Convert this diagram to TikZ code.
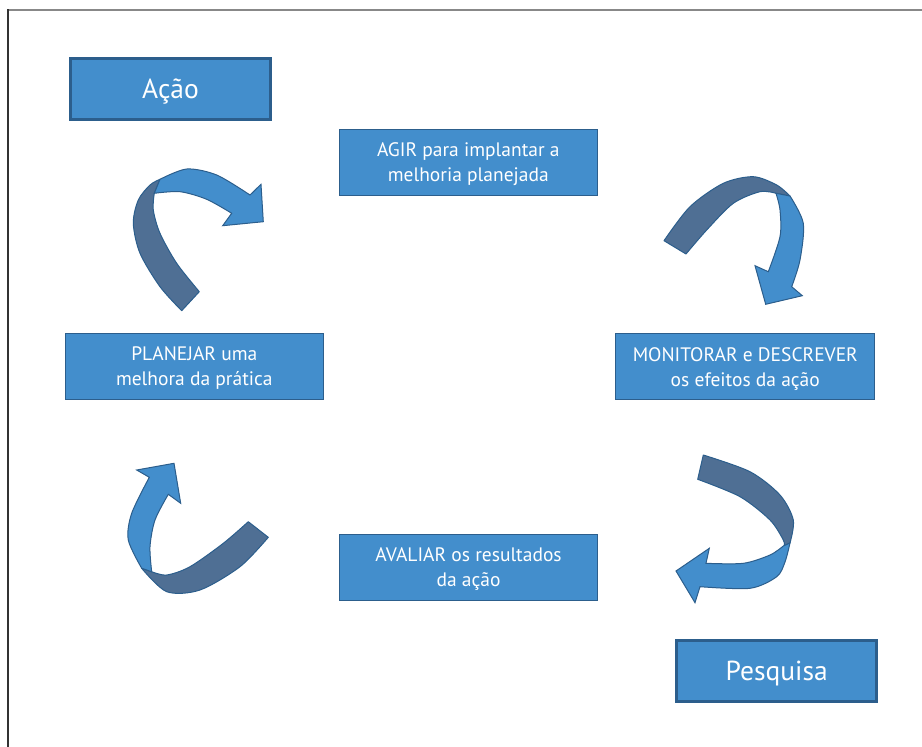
\documentclass[tikz,border=0pt]{standalone}
\usepackage{fontspec}
\setmainfont{PT Sans}
\definecolor{boxblue}{RGB}{67,142,204}
\definecolor{edgeblue}{RGB}{44,94,140}
\definecolor{bandblue}{RGB}{79,111,148}
\definecolor{framegray}{RGB}{136,136,136}
\definecolor{framedark}{RGB}{51,51,51}

\begin{document}
\begin{tikzpicture}[x=1pt,y=-1pt,
  box/.style={rectangle,draw=edgeblue,fill=boxblue,text=white,line width=1pt,align=center,font=\fontsize{19.5}{25}\selectfont,text depth=0pt,minimum width=258pt,minimum height=66pt,inner sep=0pt},
  title/.style={rectangle,draw=edgeblue,fill=boxblue,text=white,line width=3pt,font=\fontsize{27.5}{30}\selectfont,text depth=0pt,minimum width=200pt,minimum height=61pt,inner sep=0pt},
  band/.style={fill=bandblue,draw=edgeblue,line width=1pt,line join=round},
  curl/.style={fill=boxblue,draw=edgeblue,line width=1pt,line join=miter}]
\useasboundingbox (0,0) rectangle (922,747);
% frame
\draw[framegray,line width=2pt] (8,10) -- (922,10);
\draw[framedark,line width=2pt] (8,9) -- (8,747);

% boxes
\node[title] (acao) at (170.5,89) {Ação};
\node[box] (agir) at (468.3,162.3) {AGIR para implantar a\\melhoria planejada};
\node[box] (planejar) at (194.3,366.2) {PLANEJAR uma\\melhora da prática};
\node[box,minimum width=259pt] (monitorar) at (745.3,366.7) {MONITORAR e DESCREVER\\os efeitos da ação};
\node[box] (avaliar) at (468.5,567.5) {AVALIAR os resultados\\da ação};
\node[title] (pesquisa) at (776.7,671.2) {Pesquisa};

% top left arrow
\filldraw[band] (181.7,310.7) -- plot[smooth] coordinates {(199.3,291.7) (176.7,263.3) (160,233.3) (153.3,210) (154.3,193.3)}
  -- plot[smooth] coordinates {(160,179.3) (150,185) (138.3,200) (133.3,223.3) (140,253.3) (160,286.7) (181.7,310.7)} -- cycle;
\filldraw[curl] plot[smooth] coordinates {(160,179.3) (186.7,169) (216.7,175) (250,195)}
  -- (261,184.3) -- (263.3,221.7) -- (222.7,225.7)
  -- plot[smooth] coordinates {(231.7,213.3) (206.7,199.3) (180,191.7) (154.3,193.3)} -- cycle;

% top right arrow
\filldraw[band] (664,240.7) -- plot[smooth] coordinates {(686,254) (706.7,230) (733.3,203.3) (760,191.7) (776,193.3)}
  -- plot[smooth] coordinates {(790,196) (776.7,185) (753.3,176.7) (723.3,183.3) (690,206.7) (664,240.7)} -- cycle;
\filldraw[curl] plot[smooth] coordinates {(790,196) (803.3,223.3) (800,260) (791.7,286.7)}
  -- (802.3,295.7) -- (765.7,304.3) -- (755,265.7)
  -- plot[smooth] coordinates {(768.3,271.7) (780,236.7) (780,210) (776,193.3)} -- cycle;

% bottom left arrow
\filldraw[band] (248.3,521.7) -- plot[smooth] coordinates {(268.3,537.3) (240,566.7) (200,590) (166.7,591.7) (141.7,568.3)}
  -- plot[smooth] coordinates {(151.7,571.7) (166.7,575) (190,566.7) (223.3,543.3) (248.3,521.7)} -- cycle;
\filldraw[curl] plot[smooth] coordinates {(141.7,568.3) (128.3,540) (131.7,513.3) (149.3,477.3)}
  -- (136.7,470) -- (174,463.3) -- (180.7,503.3)
  -- plot[smooth] coordinates {(168.3,494.3) (155,520) (150,546.7) (151.7,571.7)} -- cycle;

% bottom right arrow
\filldraw[band] (703.3,455) -- plot[smooth] coordinates {(697.7,479.3) (740,496.7) (770,520) (783.3,540) (784,546)}
  -- plot[smooth] coordinates {(790,543) (793.3,520) (780,495) (750,471.7) (703.3,455)} -- cycle;
\filldraw[curl] plot[smooth] coordinates {(790,543) (785,562) (776.7,576.7) (750,588.3) (700,586.7)}
  -- (695,602.7) -- (676,571) -- (709.3,548.3)
  -- plot[smooth] coordinates {(706,563.3) (743.3,563.3) (770,555) (783.3,546)} -- cycle;
\end{tikzpicture}
\end{document}
